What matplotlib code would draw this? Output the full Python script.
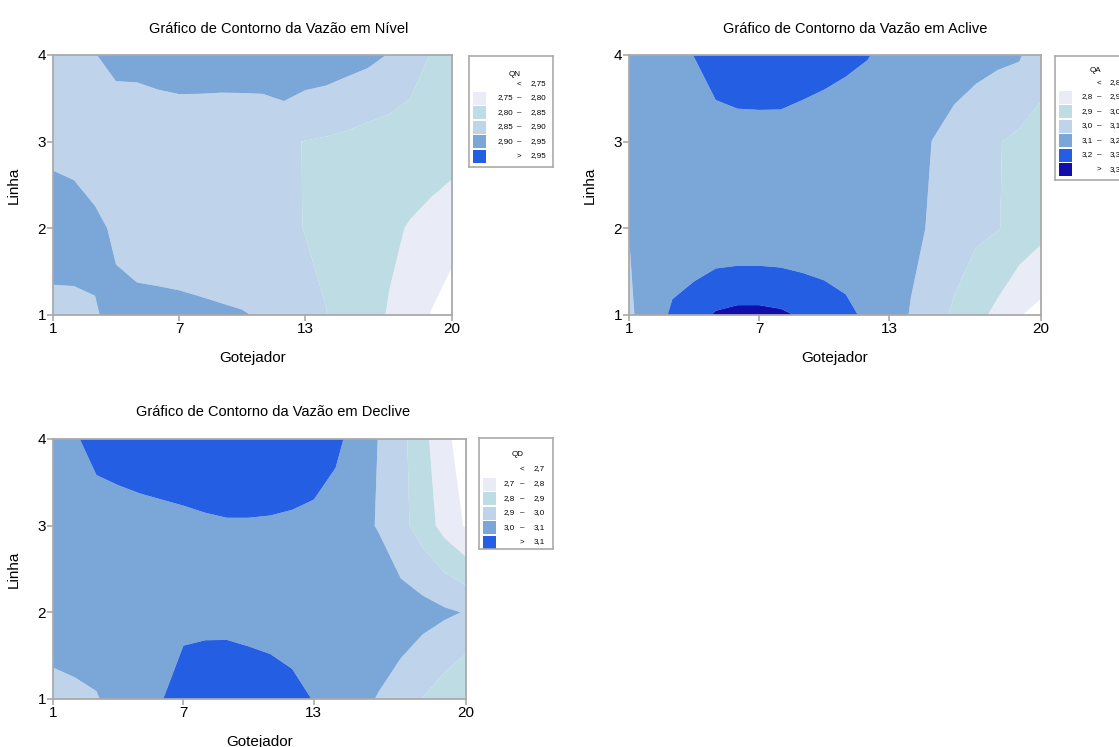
import matplotlib.pyplot as plt
import numpy as np
from matplotlib.patches import Rectangle

plt.rcParams['font.family'] = ['Liberation Sans', 'DejaVu Sans']

# dados: linhas 1..4 (linhas), gotejadores 1..20 (colunas)
gotejador = np.arange(1, 21)
linha = np.array([1, 2, 3, 4])

qn_l1 = [2.885, 2.89, 2.898, 2.907, 2.909, 2.909, 2.908, 2.906, 2.904, 2.902,
         2.897, 2.88, 2.862, 2.851, 2.835, 2.815, 2.797, 2.775, 2.748, 2.725]
qn_l2 = [2.928, 2.92, 2.907, 2.895, 2.885, 2.882, 2.88, 2.878, 2.875, 2.87,
         2.865, 2.857, 2.849, 2.84, 2.83, 2.82, 2.808, 2.797, 2.785, 2.77]
qn_l3 = [2.886, 2.884, 2.88, 2.877, 2.874, 2.87, 2.866, 2.863, 2.861, 2.859,
         2.857, 2.855, 2.849, 2.845, 2.84, 2.832, 2.828, 2.826, 2.827, 2.823]
qn_l4 = [2.875, 2.888, 2.899, 2.91, 2.912, 2.92, 2.928, 2.93, 2.93, 2.932,
         2.935, 2.951, 2.935, 2.93, 2.92, 2.912, 2.898, 2.875, 2.848, 2.835]

qa_l1 = [3.09, 3.13, 3.22, 3.26, 3.31, 3.325, 3.325, 3.315, 3.29, 3.26,
         3.225, 3.18, 3.14, 3.095, 3.04, 2.985, 2.93, 2.875, 2.805, 2.77]
qa_l2 = [3.101, 3.105, 3.11, 3.105, 3.105, 3.105, 3.105, 3.105, 3.105, 3.11,
         3.12, 3.13, 3.13, 3.12, 3.09, 3.05, 3.02, 3.004, 2.97, 2.93]
qa_l3 = [3.12, 3.14, 3.15, 3.16, 3.163, 3.157, 3.148, 3.147, 3.126, 3.11,
         3.11, 3.12, 3.14, 3.14, 3.098, 3.07, 3.04, 3.005, 2.98, 2.97]
qa_l4 = [3.098, 3.14, 3.18, 3.201, 3.24, 3.27, 3.29, 3.29, 3.28, 3.26,
         3.23, 3.205, 3.17, 3.17, 3.17, 3.14, 3.13, 3.12, 3.11, 3.035]

qd_l1 = [2.96, 2.98, 2.995, 3.03, 3.06, 3.097, 3.14, 3.18, 3.19, 3.185,
         3.17, 3.14, 3.095, 3.06, 3.02, 2.995, 2.96, 2.898, 2.85, 2.795]
qd_l2 = [3.07, 3.06, 3.05, 3.05, 3.06, 3.07, 3.075, 3.062, 3.058, 3.045,
         3.035, 3.025, 3.03, 3.04, 3.045, 3.05, 3.045, 3.035, 3.015, 2.995]
qd_l3 = [3.04, 3.05, 3.03, 3.03, 3.035, 3.044, 3.055, 3.072, 3.084, 3.084,
         3.08, 3.071, 3.057, 3.02, 3.02, 2.995, 2.93, 2.855, 2.765, 2.69]
qd_l4 = [3.05, 3.085, 3.15, 3.18, 3.21, 3.23, 3.25, 3.26, 3.26, 3.26,
         3.25, 3.23, 3.2, 3.14, 3.03, 2.998, 2.93, 2.83, 2.73, 2.64]

niveis_qn = [2.75, 2.80, 2.85, 2.90, 2.95]
niveis_qa = [2.8, 2.9, 3.0, 3.1, 3.2, 3.3]
niveis_qd = [2.7, 2.8, 2.9, 3.0, 3.1]

cores = ['#E9EBF7', '#BEDCE4', '#BFD3EB', '#7BA6D8', '#245EE3', '#120EAB']

fig = plt.figure(figsize=(11.19, 7.47), dpi=100)
W, H = 1119, 747


def px_axes(x0, y0, x1, y1):
    return fig.add_axes([x0 / W, 1 - y1 / H, (x1 - x0) / W, (y1 - y0) / H])


def contorno(ax, dados, niveis, titulo, tx, ty):
    Z = np.array(dados)
    lv = [niveis[0] - 1] + niveis + [niveis[-1] + 1]
    cs = ['white'] + cores[:len(niveis)]
    ax.contourf(gotejador, linha, Z, levels=lv, colors=cs, antialiased=True)
    ax.set_xlim(1, 20)
    ax.set_ylim(1, 4)
    ax.set_xticks([1, 7, 13, 20])
    ax.set_yticks([1, 2, 3, 4])
    ax.tick_params(colors='#aaaaaa', labelcolor='black', labelsize=11,
                   length=4, width=1.2, pad=1)
    for s in ax.spines.values():
        s.set_color('#aaaaaa')
        s.set_linewidth(1.3)
    ax.set_xlabel('Gotejador', fontsize=11, labelpad=11)
    ax.set_ylabel('Linha', fontsize=11, labelpad=12)
    fig.text(tx / W, 1 - ty / H, titulo, fontsize=10.5, ha='center', va='center')


def legenda(x0, y0, w, h, nome, niveis, fmt, pos):
    # pos: (y titulo, y linha "<", y 1a faixa, x fim valor baixo, x traco, x valor alto)
    yt, y0r, y1r, xb, xm, xa = pos
    lg = px_axes(x0, y0, x0 + w, y0 + h)
    lg.set_xlim(0, w)
    lg.set_ylim(h, 0)
    lg.set_xticks([])
    lg.set_yticks([])
    for s in lg.spines.values():
        s.set_color('#aaaaaa')
        s.set_linewidth(1.2)
    fs = 5.8
    txt = [fmt.format(v).replace('.', ',') for v in niveis]
    lg.text(xm - 4, yt, nome, fontsize=fs, ha='center', va='center')
    lg.text(xm, y0r, '<', fontsize=fs, ha='center', va='center')
    lg.text(xa, y0r, txt[0], fontsize=fs, ha='left', va='center')
    for i in range(len(niveis)):
        yc = y1r + 14.5 * i
        lg.add_patch(Rectangle((4, yc - 6.5), 13, 13, color=cores[i], lw=0))
        if i < len(niveis) - 1:
            lg.text(xb, yc, txt[i], fontsize=fs, ha='right', va='center')
            lg.text(xm, yc, '–', fontsize=fs, ha='center', va='center')
            lg.text(xa, yc, txt[i + 1], fontsize=fs, ha='left', va='center')
        else:
            lg.text(xm, yc, '>', fontsize=fs, ha='center', va='center')
            lg.text(xa, yc, txt[i], fontsize=fs, ha='left', va='center')


ax1 = px_axes(53, 55, 452, 315)
contorno(ax1, [qn_l1, qn_l2, qn_l3, qn_l4], niveis_qn,
         'Gráfico de Contorno da Vazão em Nível', 279, 29)
legenda(469, 56, 84, 111, 'QN', niveis_qn, '{:.2f}', (18, 28, 42, 44, 50, 62))

ax2 = px_axes(629, 55, 1041, 315)
contorno(ax2, [qa_l1, qa_l2, qa_l3, qa_l4], niveis_qa,
         'Gráfico de Contorno da Vazão em Aclive', 855, 29)
legenda(1055, 56, 84, 124, 'QA', niveis_qa, '{:.1f}', (14, 27, 41, 38, 44, 55))

ax3 = px_axes(53, 439, 466, 699)
contorno(ax3, [qd_l1, qd_l2, qd_l3, qd_l4], niveis_qd,
         'Gráfico de Contorno da Vazão em Declive', 273, 412)
legenda(479, 438, 74, 111, 'QD', niveis_qd, '{:.1f}', (16, 31, 46, 36, 43, 55))

fig.savefig('out.png', dpi=100)
